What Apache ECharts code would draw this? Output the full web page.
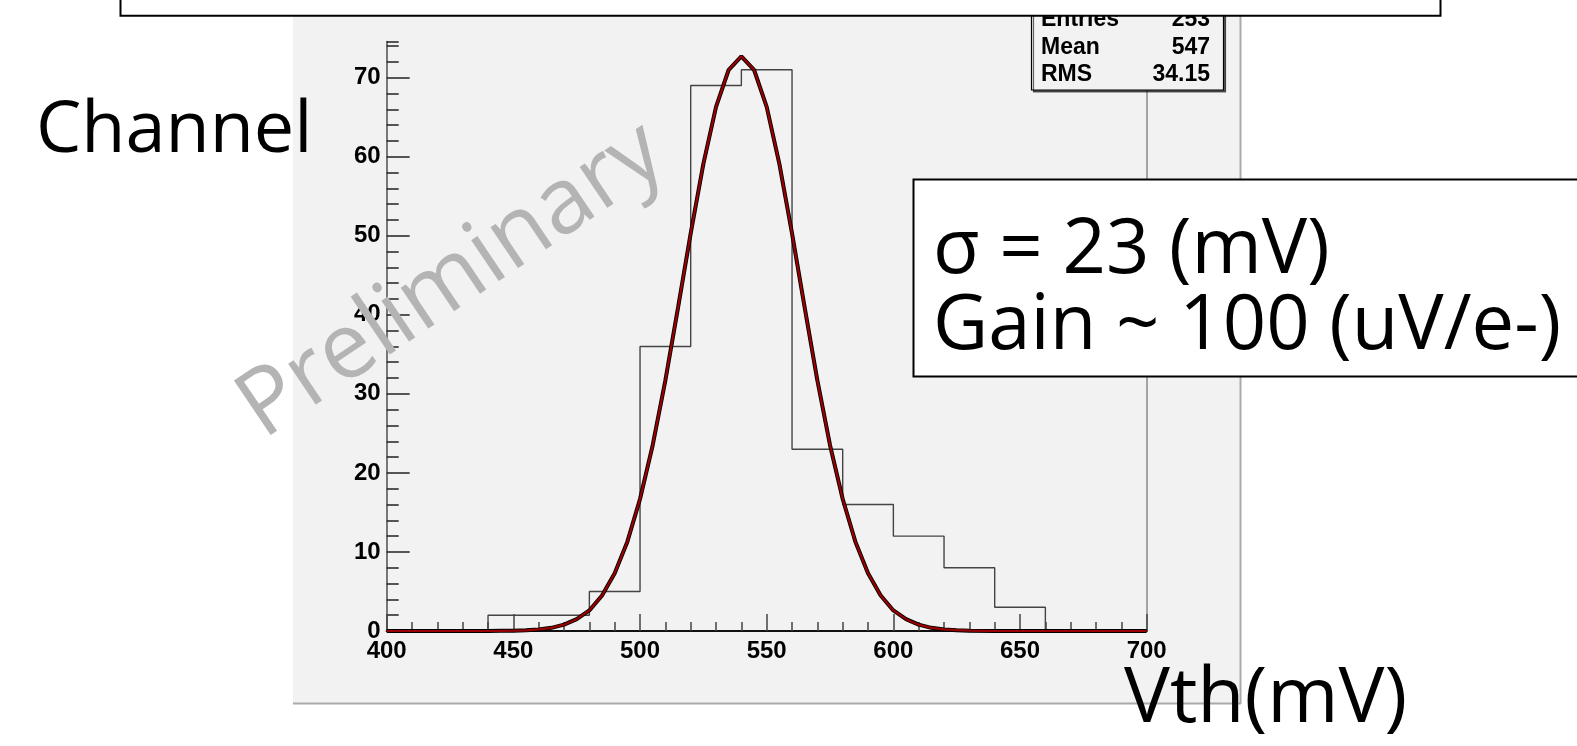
<!DOCTYPE html>
<html>
<head>
<meta charset="utf-8">
<title>Vth distribution</title>
<script src="https://cdn.jsdelivr.net/npm/echarts@6/dist/echarts.min.js"></script>
<style>
  html, body { margin: 0; padding: 0; background: #fff; }
  #chart { width: 1577px; height: 746px; }
</style>
</head>
<body>
<div id="chart"></div>
<script>
// histogram: left bin edges (mV) and counts
var binEdges = [440, 460, 480, 500, 520, 540, 560, 580, 600, 620, 640];
var binCounts = [2, 2, 5, 36, 69, 71, 23, 16, 12, 8, 3];

// gaussian fit curve
var fitX = [400, 420, 440, 445, 450, 455, 460, 465, 470, 475, 480, 485, 490, 495,
            500, 505, 510, 515, 520, 525, 530, 535, 540, 545, 550, 555, 560, 565,
            570, 575, 580, 585, 590, 595, 600, 605, 610, 615, 620, 625, 630, 640, 700];
var fitY = [0, 0, 0, 0.02, 0.04, 0.09, 0.2, 0.4, 0.8, 1.5, 2.6, 4.5, 7.3, 11.3,
            16.7, 23.5, 31.7, 40.9, 50.3, 59.1, 66.3, 71.0, 72.7, 71.0, 66.3, 59.1, 50.3, 40.9,
            31.7, 23.5, 16.7, 11.3, 7.3, 4.5, 2.6, 1.5, 0.8, 0.4, 0.2, 0.1, 0.04, 0, 0];

var statNames = ['Entries', 'Mean', 'RMS'];
var statValues = ['253', '547', '34.15'];

// step outline of the histogram
var histData = [[400, 0]];
binEdges.forEach(function (e, i) { histData.push([e, binCounts[i]]); });
histData.push([660, 0], [700, 0]);

var fitData = fitX.map(function (x, i) { return [x, fitY[i]]; });

var chart = echarts.init(document.getElementById('chart'));

var labelFont = { fontFamily: 'Liberation Sans', fontWeight: 'bold', fontSize: 24, color: '#000' };
var slideFont = 'Open Sans';

var statTexts = [];
statNames.forEach(function (n, i) {
    var y = 19.5 + i * 27.7;
    statTexts.push({
        type: 'text', z: 100, x: 1041, y: y,
        style: { text: n, font: 'bold 23px "Liberation Sans"', fill: '#000', verticalAlign: 'middle', align: 'left' }
    });
    statTexts.push({
        type: 'text', z: 100, x: 1210, y: y,
        style: { text: statValues[i], font: 'bold 23px "Liberation Sans"', fill: '#000', verticalAlign: 'middle', align: 'right' }
    });
});

var option = {
    backgroundColor: '#fff',
    animation: false,
    grid: {
        left: 386.7, top: 41.7, right: 430.3, bottom: 115
    },
    xAxis: [
        {
            type: 'value', min: 400, max: 700, interval: 50,
            axisLine: { lineStyle: { color: '#777', width: 2 } },
            axisTick: { inside: true, length: 17, lineStyle: { color: '#444', width: 1.5 } },
            minorTick: { show: true, splitNumber: 5, length: 9, lineStyle: { color: '#444', width: 1.5 } },
            splitLine: { show: false },
            axisLabel: Object.assign({ margin: 8 }, labelFont)
        },
        {
            type: 'value', position: 'top', min: 400, max: 700,
            axisLine: { lineStyle: { color: '#111', width: 2 } },
            axisTick: { show: false }, axisLabel: { show: false }, splitLine: { show: false }
        }
    ],
    yAxis: [
        {
            type: 'value', position: 'left', min: 0, max: 74.55, interval: 10,
            axisLine: { show: true, lineStyle: { color: '#777', width: 2 } },
            axisTick: { show: true, inside: true, length: 23, lineStyle: { color: '#222', width: 1.5 } },
            splitLine: { show: false },
            axisLabel: Object.assign({ margin: 6, showMaxLabel: false }, labelFont)
        },
        {
            // minor ticks every 2
            type: 'value', position: 'left', min: 0, max: 74.55, interval: 2,
            axisLine: { show: false },
            axisTick: { show: true, inside: true, length: 12, lineStyle: { color: '#222', width: 1.5 } },
            axisLabel: { show: false }, splitLine: { show: false }
        },
        {
            type: 'value', position: 'right', min: 0, max: 74.55,
            axisLine: { show: true, lineStyle: { color: '#888', width: 1.5 } },
            axisTick: { show: false }, axisLabel: { show: false }, splitLine: { show: false }
        }
    ],
    series: [
        {
            name: 'hist', type: 'line', step: 'end', data: histData,
            symbol: 'none', lineStyle: { color: '#444', width: 1.4 }, z: 3
        },
        {
            name: 'fit-outline', type: 'line', data: fitData,
            symbol: 'none', lineStyle: { color: '#000', width: 4 }, z: 4
        },
        {
            name: 'fit', type: 'line', data: fitData,
            symbol: 'none', lineStyle: { color: '#9a0000', width: 2.2 }, z: 5
        }
    ],
    graphic: [
        // pad background
        { type: 'rect', z: -1, shape: { x: 293, y: 0, width: 948, height: 703 }, style: { fill: '#f2f2f2' } },
        { type: 'line', z: -1, shape: { x1: 1240.5, y1: 0, x2: 1240.5, y2: 704 }, style: { stroke: '#aaa', lineWidth: 2 } },
        { type: 'line', z: -1, shape: { x1: 293, y1: 703.5, x2: 1241, y2: 703.5 }, style: { stroke: '#aaa', lineWidth: 2 } },
        // stats box
        {
            type: 'rect', z: 99, shape: { x: 1031.5, y: -10, width: 192, height: 100 },
            style: { fill: '#f2f2f2', stroke: '#000', lineWidth: 1.2, shadowColor: 'rgba(0,0,0,0.6)', shadowOffsetX: 2, shadowOffsetY: 2 }
        }
    ].concat(statTexts).concat([
        // title box at the top of the slide
        {
            type: 'rect', z: 101, shape: { x: 120.5, y: -10, width: 1320, height: 25.7 },
            style: { fill: '#fff', stroke: '#000', lineWidth: 2 }
        },
        // slide annotations
        {
            type: 'text', z: 102, x: 452, y: 281, rotation: 34 * Math.PI / 180,
            style: { text: 'Preliminary', font: '92px "' + slideFont + '"', fill: '#b4b4b4', align: 'center', verticalAlign: 'middle' }
        },
        {
            type: 'text', z: 102, x: 36, y: 131,
            style: { text: 'Channel', font: '72px "' + slideFont + '"', fill: '#000', align: 'left', verticalAlign: 'middle' }
        },
        {
            type: 'rect', z: 102, shape: { x: 913.5, y: 179.5, width: 700, height: 197 },
            style: { fill: '#fff', stroke: '#000', lineWidth: 2 }
        },
        {
            type: 'text', z: 103, x: 933, y: 251,
            style: { text: 'σ = 23 (mV)', font: '76px "' + slideFont + '"', fill: '#000', align: 'left', verticalAlign: 'middle' }
        },
        {
            type: 'text', z: 103, x: 933, y: 327,
            style: { text: 'Gain ~ 100 (uV/e-)', font: '76px "' + slideFont + '"', fill: '#000', align: 'left', verticalAlign: 'middle' }
        },
        {
            type: 'text', z: 102, x: 1124, y: 700,
            style: { text: 'Vth(mV)', font: '77px "' + slideFont + '"', fill: '#000', align: 'left', verticalAlign: 'middle' }
        }
    ])
};

chart.setOption(option);
</script>
</body>
</html>
